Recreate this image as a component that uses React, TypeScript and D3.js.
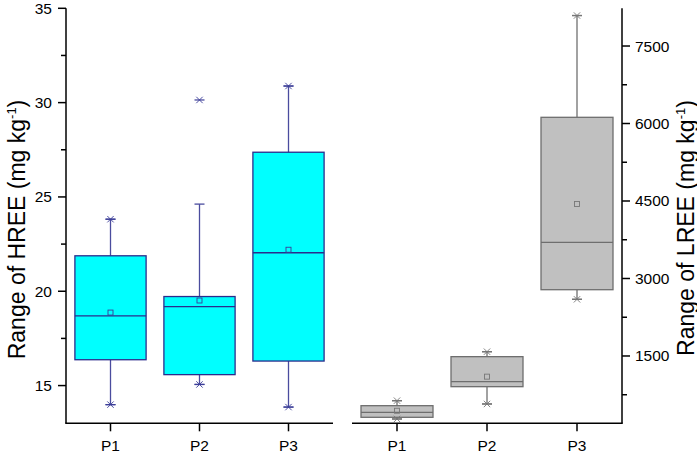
import React from "react";
import * as d3 from "d3";

const categories = ["P1", "P2", "P3"];

// HREE (left panel, mg/kg)
const hreeQ1 = [16.37, 15.58, 16.3];
const hreeMedian = [18.7, 19.18, 22.04];
const hreeQ3 = [21.88, 19.72, 27.37];
const hreeMean = [18.87, 19.51, 22.2];
const hreeWhiskerLow = [13.99, 15.06, 13.86];
const hreeWhiskerHigh = [23.82, 24.62, 30.88];
const hreeMin = [13.99, 15.06, 13.86];
const hreeMax = [23.82, 30.14, 30.88];

// LREE (right panel, mg/kg)
const lreeQ1 = [313, 906, 2783];
const lreeMedian = [410, 1003, 3701];
const lreeQ3 = [538, 1487, 6120];
const lreeMean = [440, 1100, 4442];
const lreeWhiskerLow = [281, 571, 2597];
const lreeWhiskerHigh = [635, 1583, 8090];
const lreeMin = [281, 571, 2597];
const lreeMax = [635, 1583, 8090];

const hreeMajor = [15, 20, 25, 30, 35];
const hreeMinor = [17.5, 22.5, 27.5, 32.5];
const lreeMajor = [1500, 3000, 4500, 6000, 7500];
const lreeMinor = [750, 2250, 3750, 5250, 6750];

const FONT = "'Liberation Sans', Arial, sans-serif";
const TOP = 8.3;
const BOTTOM = 423.3;

type Style = { fill: string; stroke: string; whisker: string; marker: string };

function Boxes({
  x, y, q1, med, q3, mean, wl, wh, mn, mx, st,
}: any) {
  const bw = 0.8;
  return (
    <g>
      {categories.map((c, i) => {
        const cx = x(i + 1);
        const half = (x(1 + bw / 2) - x(1 - bw / 2)) / 2;
        const cap = 5;
        const m = 3.2;
        const cross = (vy: number, key: string, withCap = true) => (
          <g key={key}>
            <line x1={cx - m} x2={cx + m} y1={vy - m} y2={vy + m} stroke={st.marker} strokeWidth={0.9} />
            <line x1={cx - m} x2={cx + m} y1={vy + m} y2={vy - m} stroke={st.marker} strokeWidth={0.9} />
            {withCap && <line x1={cx - cap} x2={cx + cap} y1={vy} y2={vy} stroke={st.marker} strokeWidth={1.2} />}
          </g>
        );
        return (
          <g key={c}>
            <line x1={cx} x2={cx} y1={y(q3[i])} y2={y(wh[i])} stroke={st.whisker} strokeWidth={1.3} />
            <line x1={cx} x2={cx} y1={y(q1[i])} y2={y(wl[i])} stroke={st.whisker} strokeWidth={1.3} />
            <line x1={cx - cap} x2={cx + cap} y1={y(wh[i])} y2={y(wh[i])} stroke={st.whisker} strokeWidth={1.3} />
            <line x1={cx - cap} x2={cx + cap} y1={y(wl[i])} y2={y(wl[i])} stroke={st.whisker} strokeWidth={1.3} />
            <rect x={cx - half} y={y(q3[i])} width={2 * half} height={y(q1[i]) - y(q3[i])} fill={st.fill} stroke={st.stroke} strokeWidth={1.3} />
            <line x1={cx - half} x2={cx + half} y1={y(med[i])} y2={y(med[i])} stroke={st.stroke} strokeWidth={1.3} />
            <rect x={cx - 2.5} y={y(mean[i]) - 2.5} width={5} height={5} fill="none" stroke={st.marker} strokeWidth={0.9} />
            {cross(y(mn[i]), "mn")}
            {cross(y(mx[i]), "mx")}
          </g>
        );
      })}
    </g>
  );
}

export default function App() {
  const xL = d3.scaleLinear().domain([0.5, 3.5]).range([66, 333]);
  const xR = d3.scaleLinear().domain([0.5, 3.5]).range([352, 622]);
  const yL = d3.scaleLinear().domain([13, 35]).range([BOTTOM, TOP]);
  const yR = d3.scaleLinear().domain([197, 8230]).range([BOTTOM, TOP]);

  const leftStyle: Style = { fill: "#00FFFF", stroke: "#2B2C8C", whisker: "#4A4C9E", marker: "#3B3D98" };
  const rightStyle: Style = { fill: "#C0C0C0", stroke: "#6E6E6E", whisker: "#707070", marker: "#777777" };

  return (
    <svg width={697} height={453} style={{ position: "absolute", left: 0, top: 0, background: "#fff" }} fontFamily={FONT}>
      <rect width={697} height={453} fill="#fff" />
      <Boxes x={xL} y={yL} q1={hreeQ1} med={hreeMedian} q3={hreeQ3} mean={hreeMean}
        wl={hreeWhiskerLow} wh={hreeWhiskerHigh} mn={hreeMin} mx={hreeMax} st={leftStyle} />
      <Boxes x={xR} y={yR} q1={lreeQ1} med={lreeMedian} q3={lreeQ3} mean={lreeMean}
        wl={lreeWhiskerLow} wh={lreeWhiskerHigh} mn={lreeMin} mx={lreeMax} st={rightStyle} />

      {/* left axes */}
      <line x1={66} x2={66} y1={TOP} y2={BOTTOM} stroke="#000" strokeWidth={1.5} />
      <line x1={65.25} x2={333} y1={BOTTOM} y2={BOTTOM} stroke="#000" strokeWidth={1.5} />
      {hreeMajor.map((v) => (
        <g key={v}>
          <line x1={58} x2={66} y1={yL(v)} y2={yL(v)} stroke="#000" strokeWidth={1.5} />
          <text x={52} y={yL(v) + 5.5} textAnchor="end" fontSize={15.5}>{v}</text>
        </g>
      ))}
      {hreeMinor.map((v) => (
        <line key={v} x1={61} x2={66} y1={yL(v)} y2={yL(v)} stroke="#000" strokeWidth={1.5} />
      ))}
      {categories.map((c, i) => (
        <g key={c}>
          <line x1={xL(i + 1)} x2={xL(i + 1)} y1={BOTTOM} y2={BOTTOM + 8} stroke="#000" strokeWidth={1.5} />
          <text x={xL(i + 1)} y={450.5} textAnchor="middle" fontSize={15.5}>{c}</text>
        </g>
      ))}

      {/* right axes */}
      <line x1={352} x2={622.75} y1={BOTTOM} y2={BOTTOM} stroke="#000" strokeWidth={1.5} />
      <line x1={622} x2={622} y1={TOP} y2={BOTTOM} stroke="#000" strokeWidth={1.5} />
      {lreeMajor.map((v) => (
        <g key={v}>
          <line x1={622} x2={630} y1={yR(v)} y2={yR(v)} stroke="#000" strokeWidth={1.5} />
          <text x={635} y={yR(v) + 5.5} textAnchor="start" fontSize={15.5}>{v}</text>
        </g>
      ))}
      {lreeMinor.map((v) => (
        <line key={v} x1={622} x2={627} y1={yR(v)} y2={yR(v)} stroke="#000" strokeWidth={1.5} />
      ))}
      {categories.map((c, i) => (
        <g key={c}>
          <line x1={xR(i + 1)} x2={xR(i + 1)} y1={BOTTOM} y2={BOTTOM + 8} stroke="#000" strokeWidth={1.5} />
          <text x={xR(i + 1)} y={450.5} textAnchor="middle" fontSize={15.5}>{c}</text>
        </g>
      ))}

      {/* axis titles */}
      <text transform="translate(24.5,229.5) rotate(-90)" textAnchor="middle" fontSize={23}>
        Range of HREE (mg kg<tspan dy={-9} fontSize={13}>-1</tspan><tspan dy={9}>)</tspan>
      </text>
      <text transform="translate(693.5,228) rotate(-90)" textAnchor="middle" fontSize={23}>
        Range of LREE (mg kg<tspan dy={-9} fontSize={13}>-1</tspan><tspan dy={9}>)</tspan>
      </text>
    </svg>
  );
}
